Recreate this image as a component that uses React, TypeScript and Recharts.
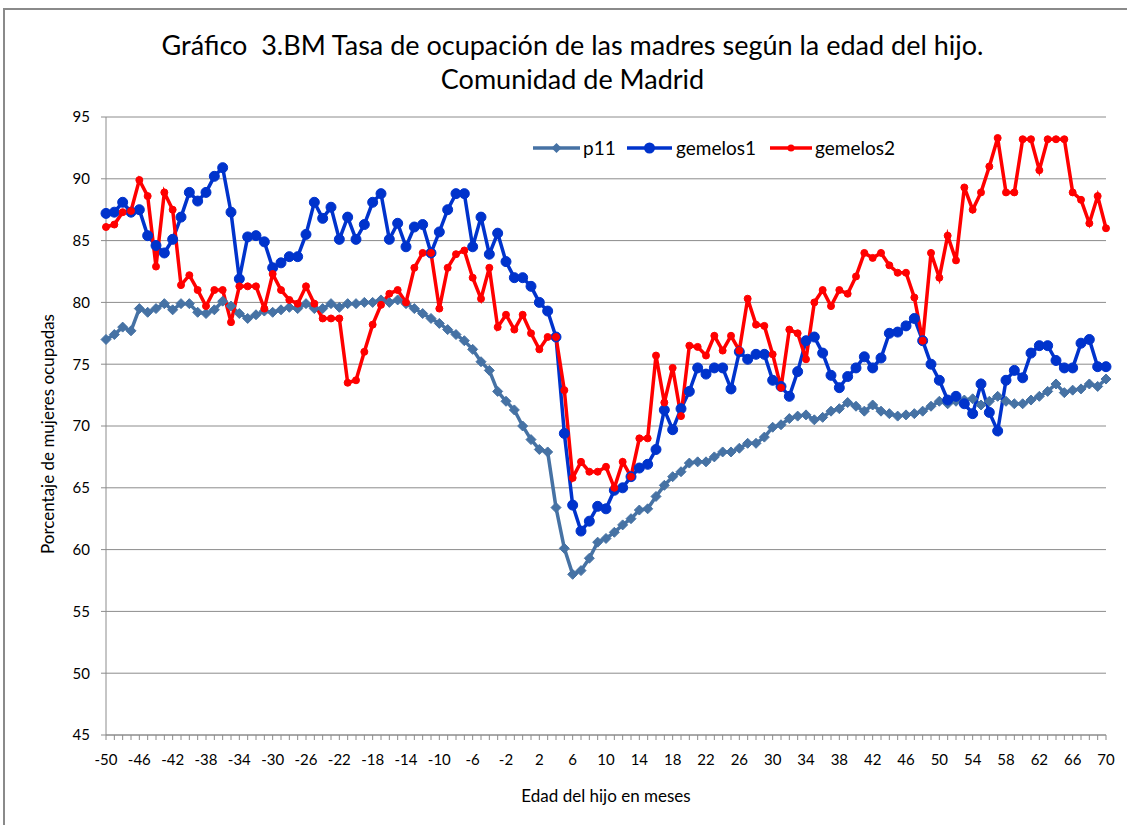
import React from 'react'
import { LineChart, Line, XAxis, YAxis, CartesianGrid } from 'recharts'

// months -50 .. 70 (categories)
const months = Array.from({ length: 121 }, (_, i) => i - 50)

const xLabelTicks = [-50, -46, -42, -38, -34, -30, -26, -22, -18, -14, -10, -6, -2, 2, 6, 10, 14, 18, 22, 26, 30, 34, 38, 42, 46, 50, 54, 58, 62, 66, 70]
const yTicks = [45, 50, 55, 60, 65, 70, 75, 80, 85, 90, 95]

const p11 = [
  77.0, 77.4, 78.0, 77.7, 79.5, 79.2, 79.5, 79.9, 79.4, 79.9,
  79.9, 79.2, 79.1, 79.4, 80.1, 79.7, 79.1, 78.7, 79.0, 79.3,
  79.2, 79.4, 79.6, 79.5, 79.9, 79.5, 79.5, 79.9, 79.6, 79.9,
  79.9, 80.0, 80.0, 80.2, 80.0, 80.2, 79.9, 79.5, 79.1, 78.7,
  78.3, 77.8, 77.4, 76.9, 76.2, 75.2, 74.5, 72.8, 72.0, 71.3,
  70.0, 68.9, 68.1, 67.9, 63.4, 60.1, 58.0, 58.3, 59.3, 60.6,
  60.9, 61.4, 62.0, 62.5, 63.2, 63.3, 64.3, 65.2, 65.9, 66.3,
  67.0, 67.1, 67.1, 67.5, 67.9, 67.9, 68.2, 68.6, 68.6, 69.1,
  69.9, 70.1, 70.6, 70.8, 70.9, 70.5, 70.7, 71.2, 71.4, 71.9,
  71.6, 71.2, 71.7, 71.2, 71.0, 70.8, 70.9, 71.0, 71.2, 71.6,
  72.0, 71.8, 72.0, 72.1, 72.2, 71.7, 72.0, 72.4, 72.0, 71.8,
  71.8, 72.1, 72.4, 72.8, 73.4, 72.7, 72.9, 73.0, 73.4, 73.2,
  73.8,
]

const gemelos1 = [
  87.2, 87.3, 88.1, 87.3, 87.5, 85.4, 84.6, 84.0, 85.1, 86.9,
  88.9, 88.2, 88.9, 90.2, 90.9, 87.3, 81.9, 85.3, 85.4, 84.9,
  82.8, 83.2, 83.7, 83.7, 85.5, 88.1, 86.8, 87.7, 85.1, 86.9,
  85.1, 86.3, 88.1, 88.8, 85.1, 86.4, 84.5, 86.1, 86.3, 84.0,
  85.7, 87.5, 88.8, 88.8, 84.5, 86.9, 83.9, 85.6, 83.3, 82.0,
  82.0, 81.3, 80.0, 79.3, 77.2, 69.4, 63.6, 61.5, 62.3, 63.5,
  63.3, 64.8, 65.0, 65.9, 66.6, 66.9, 68.1, 71.3, 69.7, 71.4,
  72.8, 74.7, 74.2, 74.7, 74.7, 73.0, 76.0, 75.4, 75.8, 75.8,
  73.7, 73.2, 72.4, 74.4, 76.9, 77.2, 75.9, 74.1, 73.1, 74.0,
  74.7, 75.6, 74.7, 75.5, 77.5, 77.6, 78.1, 78.7, 76.9, 75.0,
  73.7, 72.1, 72.4, 71.8, 71.0, 73.4, 71.1, 69.6, 73.7, 74.5,
  73.9, 75.9, 76.5, 76.5, 75.3, 74.7, 74.7, 76.7, 77.0, 74.8,
  74.8,
]

const gemelos2 = [
  86.1, 86.3, 87.3, 87.4, 89.9, 88.6, 82.9, 88.9, 87.5, 81.4,
  82.2, 81.0, 79.7, 81.0, 81.0, 78.4, 81.3, 81.3, 81.3, 79.5,
  82.3, 81.0, 80.2, 79.9, 81.3, 79.9, 78.7, 78.7, 78.7, 73.5,
  73.7, 76.0, 78.2, 79.8, 80.7, 81.0, 80.0, 82.8, 84.0, 84.0,
  79.5, 82.8, 83.9, 84.2, 82.0, 80.3, 82.8, 78.0, 79.0, 77.8,
  79.0, 77.5, 76.2, 77.2, 77.2, 72.9, 65.8, 67.1, 66.3, 66.3,
  66.7, 65.0, 67.1, 65.9, 69.0, 69.0, 75.7, 71.9, 74.7, 70.8,
  76.5, 76.4, 75.7, 77.3, 76.1, 77.3, 76.1, 80.3, 78.2, 78.1,
  75.8, 73.1, 77.8, 77.5, 75.4, 80.0, 81.0, 79.7, 81.0, 80.7,
  82.1, 84.0, 83.6, 84.0, 83.0, 82.4, 82.4, 80.4, 76.9, 84.0,
  82.0, 85.4, 83.4, 89.3, 87.5, 88.9, 91.0, 93.3, 88.9, 88.9,
  93.2, 93.2, 90.7, 93.2, 93.2, 93.2, 88.9, 88.3, 86.4, 88.6,
  86.0,
]

const chartData = months.map((m, i) => ({
  m,
  p11: p11[i],
  gemelos1: gemelos1[i],
  gemelos2: gemelos2[i],
}))

const FONT = 'Lato, "Open Sans", sans-serif'
const C_P11 = '#4672A4'
const C_G1 = '#0033CC'
const C_G2 = '#FF0000'
const GRID = '#8C8C8C'

const Diamond = (props: any) => {
  const { cx, cy, index } = props
  if (cx == null || cy == null) return <g key={index} />
  const s = 5
  return (
    <path
      key={index}
      d={`M${cx},${cy - s}L${cx + s},${cy}L${cx},${cy + s}L${cx - s},${cy}Z`}
      fill={C_P11}
      stroke={C_P11}
      strokeWidth={1}
    />
  )
}

// legend drawn as an overlay so it does not push the plot area down
function ChartLegend() {
  const items = [
    { name: 'p11', color: C_P11, x: 3, w: 47, text: 53, marker: 'diamond' },
    { name: 'gemelos1', color: C_G1, x: 97, w: 45, text: 146, marker: 'big' },
    { name: 'gemelos2', color: C_G2, x: 240, w: 42, text: 285, marker: 'small' },
  ]
  return (
    <svg width={400} height={30} style={{ position: 'absolute', left: 530, top: 134, overflow: 'visible' }}>
      {items.map((it) => {
        const cx = it.x + it.w / 2
        return (
          <g key={it.name}>
            <line x1={it.x} x2={it.x + it.w} y1={14} y2={14} stroke={it.color} strokeWidth={3.5} />
            {it.marker === 'diamond' && (
              <path d={`M${cx},9L${cx + 5},14L${cx},19L${cx - 5},14Z`} fill={it.color} />
            )}
            {it.marker === 'big' && <circle cx={cx} cy={14} r={5.5} fill={it.color} />}
            {it.marker === 'small' && <circle cx={cx} cy={14} r={3.5} fill={it.color} />}
            <text x={it.text} y={20.5} fontSize={19} fontFamily={FONT} fill="#000">
              {it.name}
            </text>
          </g>
        )
      })}
    </svg>
  )
}

export default function App() {
  return (
    <div
      style={{
        position: 'absolute',
        left: 0,
        top: 0,
        width: 1127,
        height: 825,
        overflow: 'hidden',
        background: '#fff',
        fontFamily: FONT,
      }}
    >
      <div
        style={{
          position: 'absolute',
          left: 3,
          top: 8,
          width: 1140,
          height: 840,
          border: '2px solid #8A8A8A',
        }}
      />
      <div style={{ position: 'absolute', left: 0, width: 1145, top: 28, textAlign: 'center', fontSize: 27, lineHeight: '34px', color: '#000' }}>
        Gráfico&nbsp; 3.BM Tasa de ocupación de las madres según la edad del hijo.
        <br />
        Comunidad de Madrid
      </div>
      <div
        style={{
          position: 'absolute',
          left: 47,
          top: 434,
          transform: 'translate(-50%, -50%) rotate(-90deg)',
          whiteSpace: 'nowrap',
          fontSize: 17,
          color: '#000',
        }}
      >
        Porcentaje de mujeres ocupadas
      </div>
      <div
        style={{
          position: 'absolute',
          left: 606,
          top: 795,
          transform: 'translate(-50%, -50%)',
          whiteSpace: 'nowrap',
          fontSize: 17,
          color: '#000',
        }}
      >
        Edad del hijo en meses
      </div>
      <div style={{ position: 'absolute', left: 0, top: 0 }}>
        <LineChart
          width={1127}
          height={825}
          data={chartData}
          margin={{ top: 117, right: 21, left: 0, bottom: 0 }}
        >
          <CartesianGrid vertical={false} stroke={GRID} strokeWidth={1} />
          <XAxis
            dataKey="m"
            type="number"
            domain={[-50, 70]}
            ticks={months}
            interval={0}
            height={90}
            tickSize={5}
            tickMargin={14}
            stroke={GRID}
            tick={{ fill: '#000', fontSize: 15, fontFamily: FONT }}
            tickFormatter={(v: number) => (xLabelTicks.includes(v) ? String(v) : '')}
          />
          <YAxis
            type="number"
            domain={[45, 95]}
            ticks={yTicks}
            interval={0}
            width={106}
            tickSize={5}
            tickMargin={11}
            stroke={GRID}
            tick={{ fill: '#000', fontSize: 15, fontFamily: FONT }}
          />
          <Line
            dataKey="p11"
            name="p11"
            stroke={C_P11}
            strokeWidth={3.5}
            dot={Diamond}
            activeDot={false}
            isAnimationActive={false}
          />
          <Line
            dataKey="gemelos1"
            name="gemelos1"
            stroke={C_G1}
            strokeWidth={3.5}
            dot={{ r: 5, fill: C_G1, stroke: C_G1, strokeWidth: 1 }}
            activeDot={false}
            isAnimationActive={false}
          />
          <Line
            dataKey="gemelos2"
            name="gemelos2"
            stroke={C_G2}
            strokeWidth={3.5}
            dot={{ r: 3.5, fill: C_G2, stroke: C_G2, strokeWidth: 1 }}
            activeDot={false}
            isAnimationActive={false}
          />
        </LineChart>
      </div>
      <ChartLegend />
    </div>
  )
}
